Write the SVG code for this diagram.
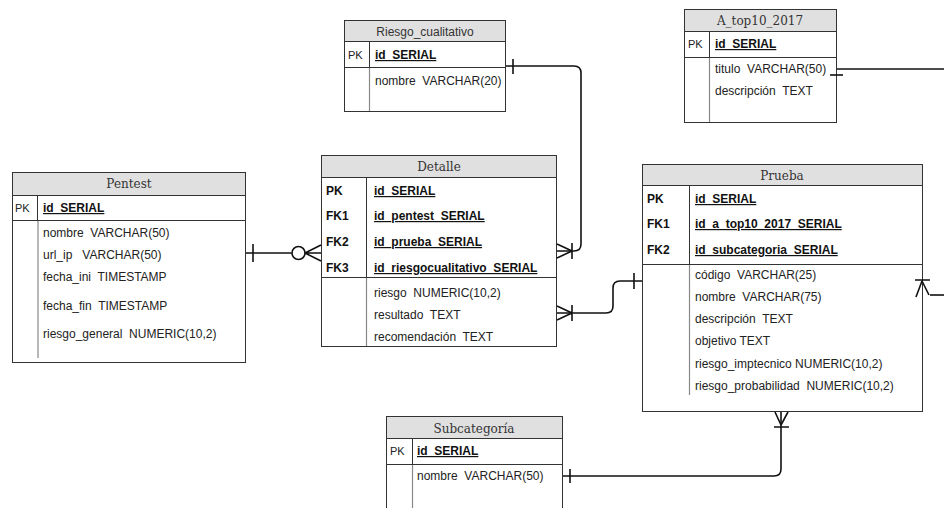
<svg xmlns="http://www.w3.org/2000/svg" width="944" height="508" viewBox="0 0 944 508">
  <style>
    .box { fill: #ffffff; stroke: #333333; stroke-width: 1; }
    .head { fill: #e0e0e0; stroke: #333333; stroke-width: 1; }
    .sep { stroke: #333333; stroke-width: 1; fill: none; }
    .div { stroke: #888888; stroke-width: 1.2; fill: none; }
    .title { font-family: "DejaVu Serif", serif; font-size: 12px; fill: #333333; text-anchor: middle; }
    .title-sans { font-family: "Liberation Sans", Arial, sans-serif; font-size: 12px; fill: #333333; text-anchor: middle; }
    .f { font-family: "Liberation Sans", Arial, sans-serif; font-size: 12px; fill: #222222; white-space: pre; }
    .key { font-family: "Liberation Sans", Arial, sans-serif; font-size: 12px; font-weight: bold; fill: #111111; text-decoration: underline; white-space: pre; }
    .pk { font-family: "Liberation Sans", Arial, sans-serif; font-size: 11px; fill: #222222; }
    .pkb { font-family: "Liberation Sans", Arial, sans-serif; font-size: 12px; font-weight: bold; fill: #111111; }
    .conn { stroke: #111111; stroke-width: 1.6; fill: none; stroke-linejoin: round; }
  </style>

  <!-- Pentest -->
  <g id="pentest">
    <rect class="box" x="12.5" y="172.5" width="233" height="190"/>
    <rect class="head" x="12.5" y="172.5" width="233" height="23"/>
    <text class="title" x="129" y="188">Pentest</text>
    <line class="sep" x1="12.5" y1="220.5" x2="245.5" y2="220.5"/>
    <line class="sep" x1="37.5" y1="196" x2="37.5" y2="220"/>
    <line class="div" x1="38" y1="221" x2="38" y2="358"/>
    <text class="pk" x="15" y="212">PK</text>
    <text class="key" x="43" y="212">id_SERIAL</text>
    <text class="f" x="43" y="237">nombre  VARCHAR(50)</text>
    <text class="f" x="43" y="259">url_ip   VARCHAR(50)</text>
    <text class="f" x="43" y="281">fecha_ini  TIMESTAMP</text>
    <text class="f" x="43" y="310">fecha_fin  TIMESTAMP</text>
    <text class="f" x="43" y="338">riesgo_general  NUMERIC(10,2)</text>
  </g>

  <!-- Riesgo_cualitativo -->
  <g id="riesgo_cualitativo">
    <rect class="box" x="344.5" y="20.5" width="161" height="91"/>
    <rect class="head" x="344.5" y="20.5" width="161" height="21"/>
    <text class="title-sans" x="425" y="36">Riesgo_cualitativo</text>
    <line class="sep" x1="344.5" y1="67.5" x2="505.5" y2="67.5"/>
    <line class="sep" x1="369.5" y1="42" x2="369.5" y2="67"/>
    <line class="div" x1="369.5" y1="68" x2="369.5" y2="111"/>
    <text class="pk" x="348" y="59">PK</text>
    <text class="key" x="375" y="59">id_SERIAL</text>
    <text class="f" x="375" y="85">nombre  VARCHAR(20)</text>
  </g>

  <!-- A_top10_2017 -->
  <g id="a_top10_2017">
    <rect class="box" x="684.5" y="9.5" width="152" height="113"/>
    <rect class="head" x="684.5" y="9.5" width="152" height="22"/>
    <text class="title" x="760" y="25">A_top10_2017</text>
    <line class="sep" x1="684.5" y1="57.5" x2="836.5" y2="57.5"/>
    <line class="sep" x1="709.5" y1="32" x2="709.5" y2="57"/>
    <line class="div" x1="709.5" y1="58" x2="709.5" y2="122"/>
    <text class="pk" x="688" y="48">PK</text>
    <text class="key" x="715" y="48">id_SERIAL</text>
    <text class="f" x="715" y="73">titulo  VARCHAR(50)</text>
    <text class="f" x="715" y="95">descripción  TEXT</text>
  </g>

  <!-- Detalle -->
  <g id="detalle">
    <rect class="box" x="321.5" y="155.5" width="235" height="191"/>
    <rect class="head" x="321.5" y="155.5" width="235" height="22"/>
    <text class="title" x="439" y="171">Detalle</text>
    <line class="sep" x1="321.5" y1="277.5" x2="556.5" y2="277.5"/>
    <line class="sep" x1="366.5" y1="178" x2="366.5" y2="277"/>
    <line class="div" x1="366.5" y1="278" x2="366.5" y2="346"/>
    <text class="pkb" x="326" y="195">PK</text>
    <text class="pkb" x="326" y="220">FK1</text>
    <text class="pkb" x="326" y="246">FK2</text>
    <text class="pkb" x="326" y="272">FK3</text>
    <text class="key" x="374" y="195">id_SERIAL</text>
    <text class="key" x="374" y="220">id_pentest_SERIAL</text>
    <text class="key" x="374" y="246">id_prueba_SERIAL</text>
    <text class="key" x="374" y="272">id_riesgocualitativo_SERIAL</text>
    <text class="f" x="374" y="297">riesgo  NUMERIC(10,2)</text>
    <text class="f" x="374" y="319">resultado  TEXT</text>
    <text class="f" x="374" y="341">recomendación  TEXT</text>
  </g>

  <!-- Prueba -->
  <g id="prueba">
    <rect class="box" x="642.5" y="164.5" width="280" height="247"/>
    <rect class="head" x="642.5" y="164.5" width="280" height="21"/>
    <text class="title" x="782" y="180">Prueba</text>
    <line class="sep" x1="642.5" y1="264.5" x2="922.5" y2="264.5"/>
    <line class="sep" x1="689.5" y1="186" x2="689.5" y2="264"/>
    <line class="div" x1="689.5" y1="265" x2="689.5" y2="395"/>
    <text class="pkb" x="647" y="203">PK</text>
    <text class="pkb" x="647" y="228">FK1</text>
    <text class="pkb" x="647" y="254">FK2</text>
    <text class="key" x="695" y="203">id_SERIAL</text>
    <text class="key" x="695" y="228">id_a_top10_2017_SERIAL</text>
    <text class="key" x="695" y="254">id_subcategoria_SERIAL</text>
    <text class="f" x="695" y="279">código  VARCHAR(25)</text>
    <text class="f" x="695" y="301">nombre  VARCHAR(75)</text>
    <text class="f" x="695" y="323">descripción  TEXT</text>
    <text class="f" x="695" y="345">objetivo TEXT</text>
    <text class="f" x="695" y="368">riesgo_imptecnico NUMERIC(10,2)</text>
    <text class="f" x="695" y="390">riesgo_probabilidad  NUMERIC(10,2)</text>
  </g>

  <!-- Subcategoría -->
  <g id="subcategoria">
    <rect class="box" x="386.5" y="416.5" width="176" height="100"/>
    <rect class="head" x="386.5" y="416.5" width="176" height="22"/>
    <text class="title" x="474" y="433">Subcategoría</text>
    <line class="sep" x1="386.5" y1="464.5" x2="562.5" y2="464.5"/>
    <line class="sep" x1="412.5" y1="439" x2="412.5" y2="464"/>
    <line class="div" x1="412.5" y1="465" x2="412.5" y2="508"/>
    <text class="pk" x="390" y="455">PK</text>
    <text class="key" x="417" y="455">id_SERIAL</text>
    <text class="f" x="417" y="480">nombre  VARCHAR(50)</text>
  </g>

  <!-- Relationships -->
  <g id="connectors">
    <!-- Pentest 1 — 0..n Detalle -->
    <path class="conn" d="M246,253 H291.5"/>
    <path class="conn" d="M253,244 V262"/>
    <circle class="conn" cx="298.5" cy="253" r="6.5"/>
    <path class="conn" d="M305,253 H321 M305,253 L321,245 M305,253 L321,261"/>

    <!-- Riesgo_cualitativo 1 — n Detalle -->
    <path class="conn" d="M506,66 H574 Q581,66 581,73 V244 Q581,251 574,251 H557"/>
    <path class="conn" d="M513,59 V74"/>
    <path class="conn" d="M572,243 V259 M572,251 L557,244 M572,251 L557,258"/>

    <!-- Prueba 1 — n Detalle -->
    <path class="conn" d="M557,313 H606 Q613,313 613,306 V288 Q613,281 620,281 H642"/>
    <path class="conn" d="M634,273 V289"/>
    <path class="conn" d="M572,305 V321 M572,313 L557,306 M572,313 L557,320"/>

    <!-- Subcategoría 1 — n Prueba -->
    <path class="conn" d="M563,476 H774 Q781,476 781,469 V412"/>
    <path class="conn" d="M570,469 V483"/>
    <path class="conn" d="M774,427 H789 M781,425 L775,412 M781,425 L788,412"/>

    <!-- A_top10_2017 — Prueba -->
    <path class="conn" d="M837,69 H944"/>
    <path class="conn" d="M830,75 H843"/>
    <path class="conn" d="M930,295 H944"/>
    <path class="conn" d="M915,280 H930 M922,281 L916,297 M922,281 L929,295"/>
  </g>
</svg>
